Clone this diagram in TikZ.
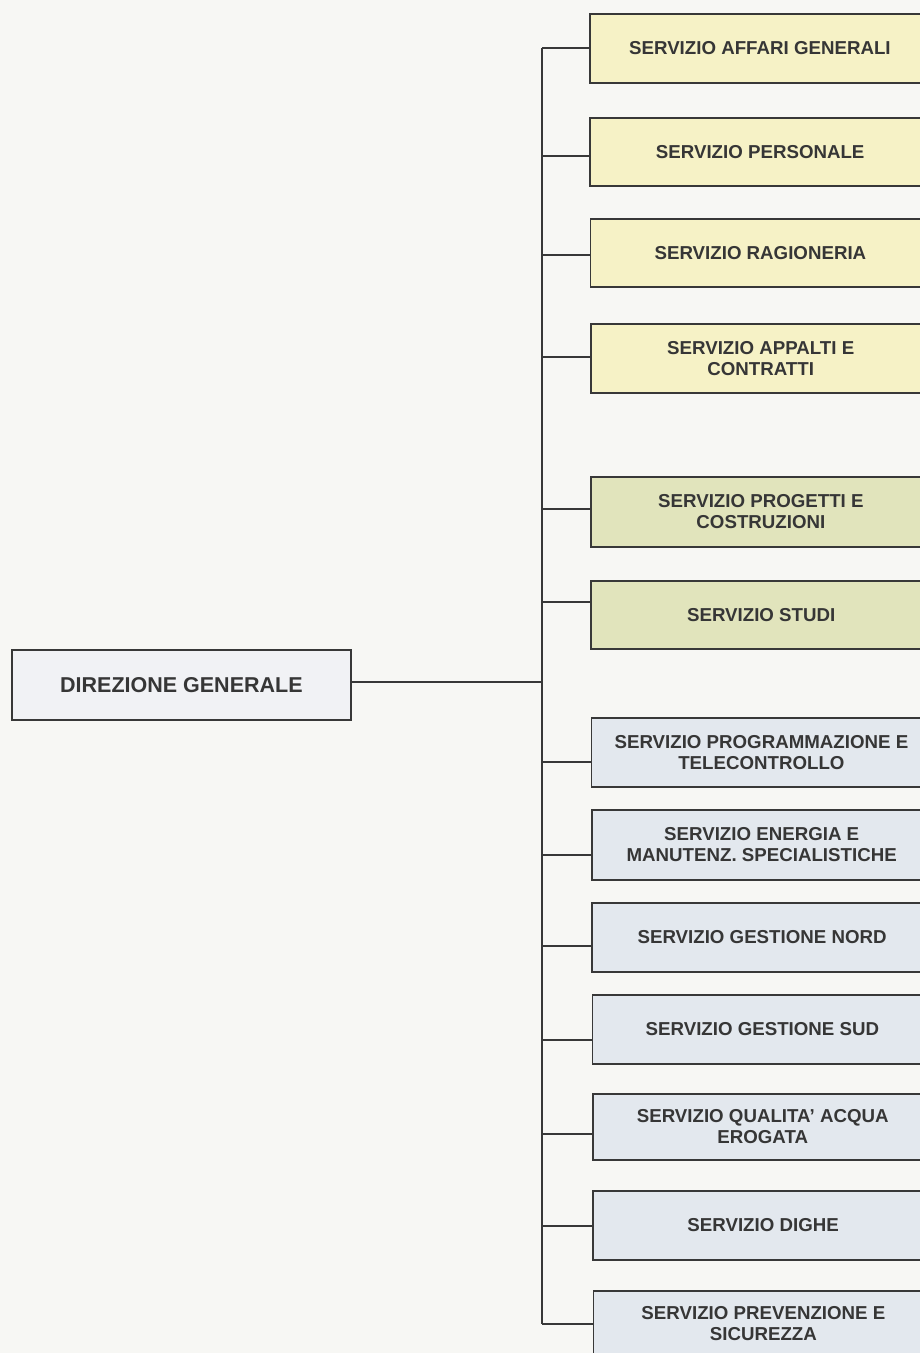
\documentclass[tikz,border=0pt]{standalone}
\usepackage{fontspec}
\setmainfont{Liberation Sans}
\definecolor{bg}{HTML}{F7F7F4}
\definecolor{edge}{HTML}{383838}
\definecolor{txt}{HTML}{363636}
\definecolor{yel}{HTML}{F6F2C6}
\definecolor{grn}{HTML}{E1E4BC}
\definecolor{blu}{HTML}{E3E8EE}
\definecolor{dgf}{HTML}{F1F2F5}
\tikzset{
  svc/.style={draw=edge, line width=1.8pt, minimum width=340pt, inner sep=0pt,
    align=center, text=txt, font=\fontsize{18.7}{21}\selectfont\bfseries, anchor=north west},
  link/.style={draw=edge, line width=1.6pt},
}
\begin{document}
\begin{tikzpicture}[x=1pt,y=-1pt]
\useasboundingbox (0,0) rectangle (920,1353);
\fill[bg] (0,0) rectangle (920,1353);
\node[svc, fill=dgf, minimum width=339pt, minimum height=70pt,
  font=\fontsize{21.5}{24}\selectfont\bfseries] (dg) at (11,649) {DIREZIONE GENERALE};
\node[svc, fill=yel, minimum height=69pt] (b1) at (589,13) {SERVIZIO AFFARI GENERALI};
\node[svc, fill=yel, minimum height=68pt] (b2) at (589.3,117) {SERVIZIO PERSONALE};
\node[svc, fill=yel, minimum height=68pt] (b3) at (589.5,218) {SERVIZIO RAGIONERIA};
\node[svc, fill=yel, minimum height=69pt] (b4) at (589.8,323) {SERVIZIO APPALTI E\\CONTRATTI};
\node[svc, fill=grn, minimum height=70pt] (b5) at (590,476) {SERVIZIO PROGETTI E\\COSTRUZIONI};
\node[svc, fill=grn, minimum height=68pt] (b6) at (590.3,580) {SERVIZIO STUDI};
\node[svc, fill=blu, minimum height=69pt] (b7) at (590.5,717) {SERVIZIO PROGRAMMAZIONE E\\TELECONTROLLO};
\node[svc, fill=blu, minimum height=70pt] (b8) at (590.8,809) {SERVIZIO ENERGIA E\\MANUTENZ. SPECIALISTICHE};
\node[svc, fill=blu, minimum height=69pt] (b9) at (591.2,902) {SERVIZIO GESTIONE NORD};
\node[svc, fill=blu, minimum height=69pt] (b10) at (591.5,994) {SERVIZIO GESTIONE SUD};
\node[svc, fill=blu, minimum height=66pt] (b11) at (591.8,1093) {SERVIZIO QUALITA' ACQUA\\EROGATA};
\node[svc, fill=blu, minimum height=69pt] (b12) at (592.2,1190) {SERVIZIO DIGHE};
\node[svc, fill=blu, minimum height=65pt] (b13) at (592.5,1290) {SERVIZIO PREVENZIONE E\\SICUREZZA};
% trunk coordinates
\coordinate (t1) at (542,48);
\coordinate (t2) at (542,156);
\coordinate (t3) at (542,255);
\coordinate (t4) at (542,357);
\coordinate (t5) at (542,509);
\coordinate (t6) at (542,602);
\coordinate (t7) at (542,762);
\coordinate (t8) at (542,855);
\coordinate (t9) at (542,946);
\coordinate (t10) at (542,1040);
\coordinate (t11) at (542,1134);
\coordinate (t12) at (542,1226);
\coordinate (t13) at (542,1324);
\coordinate (tdg) at (542,682);
\draw[link] (t1) -- (t13);
\draw[link] (dg.east |- tdg) -- (tdg);
\foreach \i in {1,...,13} {
  \draw[link] (t\i) -- (b\i.west |- t\i);
}
\end{tikzpicture}
\end{document}
